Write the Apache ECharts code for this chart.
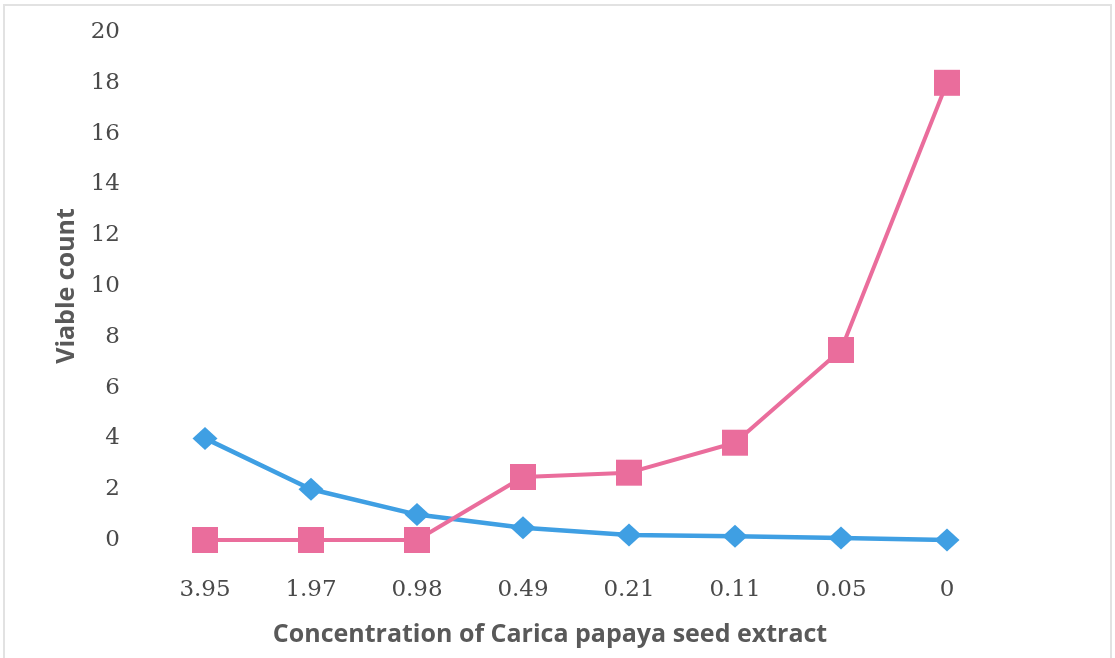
<!DOCTYPE html>
<html>
<head>
<meta charset="utf-8">
<script src="https://cdn.jsdelivr.net/npm/echarts@6/dist/echarts.min.js"></script>
<style>
  html, body { margin: 0; padding: 0; background: #ffffff; }
  #chart { width: 1115px; height: 658px; }
</style>
</head>
<body>
<div id="chart"></div>
<script>
// Extract concentrations along the x axis
const concentrations = ['3.95', '1.97', '0.98', '0.49', '0.21', '0.11', '0.05', '0'];
// Viable counts for the two series
const seriesA = [4.0, 2.0, 1.0, 0.48, 0.2, 0.15, 0.08, 0];
const seriesB = [0, 0, 0, 2.48, 2.65, 3.83, 7.48, 18.0];
const yTicks = { min: 0, max: 20, interval: 2 };

const chart = echarts.init(document.getElementById('chart'), null, { renderer: 'canvas' });

const tickFont = { fontFamily: 'DejaVu Serif', fontSize: 23, color: '#4a4a4a' };
const titleFont = { fontFamily: 'Open Sans', fontWeight: 'bold', fontSize: 25, color: '#595959' };

chart.setOption({
  animation: false,
  backgroundColor: '#ffffff',
  graphic: [{
    type: 'rect',
    shape: { x: 4, y: 5, width: 1107, height: 700 },
    style: { fill: 'none', stroke: '#e2e2e2', lineWidth: 2 },
    silent: true
  }],
  grid: { left: 152, right: 115, top: 32, bottom: 118, containLabel: false },
  xAxis: {
    type: 'category',
    data: concentrations,
    boundaryGap: true,
    axisLine: { show: false },
    axisTick: { show: false },
    axisLabel: Object.assign({ margin: 39 }, tickFont),
    name: 'Concentration of Carica papaya seed extract',
    nameLocation: 'middle',
    nameGap: 82,
    nameTextStyle: Object.assign({ padding: [0, 52, 0, 0] }, titleFont)
  },
  yAxis: {
    type: 'value',
    min: yTicks.min,
    max: yTicks.max,
    interval: yTicks.interval,
    splitLine: { show: false },
    axisLine: { show: false },
    axisTick: { show: false },
    axisLabel: Object.assign({ margin: 32 }, tickFont),
    name: 'Viable count',
    nameLocation: 'middle',
    nameGap: 73,
    nameTextStyle: titleFont
  },
  series: [
    {
      name: 'A',
      type: 'line',
      data: seriesA,
      symbol: 'diamond',
      symbolSize: [25, 23],
      lineStyle: { color: '#3f9fe3', width: 4.5 },
      itemStyle: { color: '#3f9fe3' },
      z: 2
    },
    {
      name: 'B',
      type: 'line',
      data: seriesB,
      symbol: 'rect',
      symbolSize: 26,
      lineStyle: { color: '#ea6d9c', width: 4 },
      itemStyle: { color: '#ea6d9c' },
      z: 3
    }
  ]
});
</script>
</body>
</html>
